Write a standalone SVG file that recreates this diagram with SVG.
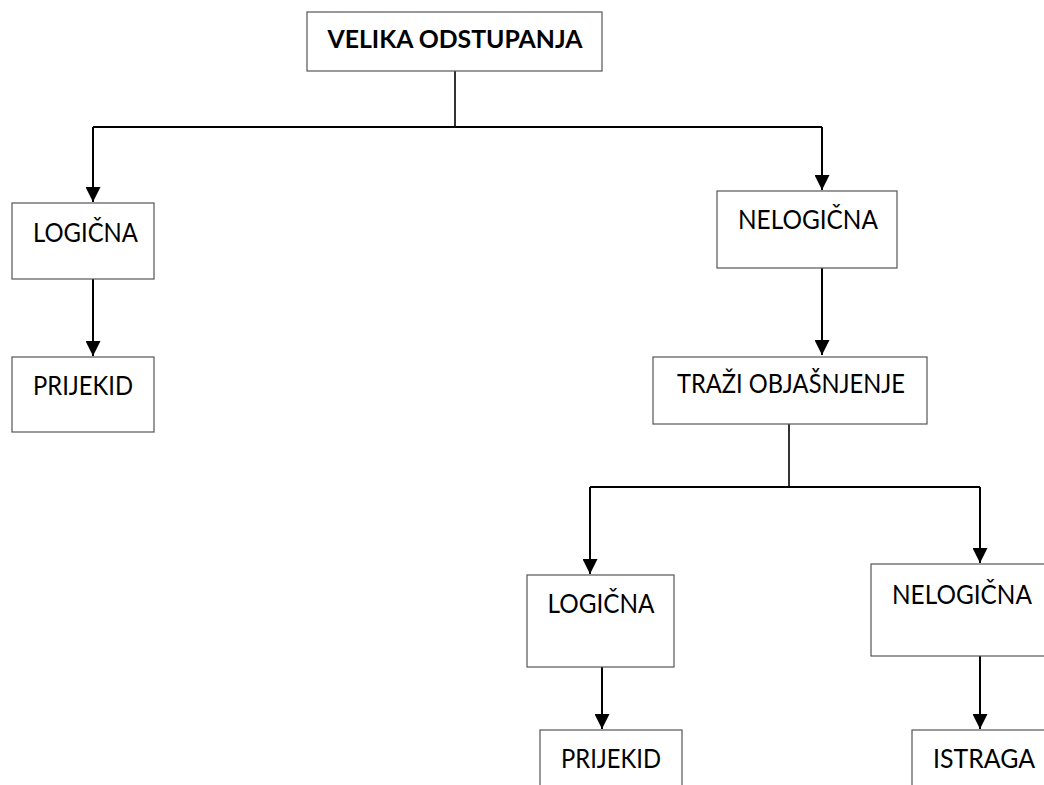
<svg xmlns="http://www.w3.org/2000/svg" width="1044" height="785" viewBox="0 0 1044 785">
<style>
.box{fill:#fff;stroke:#555;stroke-width:1.2}
.t{font-family:Lato,"Liberation Sans",sans-serif;font-size:26.5px;fill:#000;text-anchor:middle}
.b{font-weight:bold;font-size:24.5px}
.c{fill:none;stroke:#000;stroke-width:2}
</style>
<defs>
<marker id="ah" viewBox="0 0 10 10" refX="10" refY="5" markerWidth="7.5" markerHeight="7.5" markerUnits="strokeWidth" orient="auto">
<path d="M0,0 L10,5 L0,10 Z" fill="#000"/>
</marker>
</defs>
<rect width="1044" height="785" fill="#fff"/>
<g id="connectors">
<path class="c" d="M455,71 V127" style="stroke-width:1.6"/>
<path class="c" d="M93,127 H822"/>
<path class="c" d="M93,127 V202" marker-end="url(#ah)"/>
<path class="c" d="M822,127 V190" marker-end="url(#ah)"/>
<path class="c" d="M93,279 V356" marker-end="url(#ah)"/>
<path class="c" d="M822,268 V355" marker-end="url(#ah)"/>
<path class="c" d="M789,424 V487" style="stroke-width:1.6"/>
<path class="c" d="M590,487 H980"/>
<path class="c" d="M590,487 V574" marker-end="url(#ah)"/>
<path class="c" d="M980,487 V563" marker-end="url(#ah)"/>
<path class="c" d="M602,666 V729" marker-end="url(#ah)"/>
<path class="c" d="M980,656 V729" marker-end="url(#ah)"/>
</g>
<g id="n-velika">
<rect class="box" x="307" y="12" width="295" height="59"/>
<text class="t b" x="455" y="48" textLength="255" lengthAdjust="spacingAndGlyphs">VELIKA ODSTUPANJA</text>
</g>
<g id="n-logicna1">
<rect class="box" x="12" y="203" width="142" height="76"/>
<text class="t" x="85.5" y="242" textLength="105" lengthAdjust="spacingAndGlyphs">LOGIČNA</text>
</g>
<g id="n-prijekid1">
<rect class="box" x="12" y="357" width="142" height="75"/>
<text class="t" x="83" y="395" textLength="100" lengthAdjust="spacingAndGlyphs">PRIJEKID</text>
</g>
<g id="n-nelogicna1">
<rect class="box" x="717" y="191" width="180" height="77"/>
<text class="t" x="808" y="229" textLength="140" lengthAdjust="spacingAndGlyphs">NELOGIČNA</text>
</g>
<g id="n-trazi">
<rect class="box" x="653" y="357" width="274" height="67"/>
<text class="t" x="791" y="393" textLength="228" lengthAdjust="spacingAndGlyphs">TRAŽI OBJAŠNJENJE</text>
</g>
<g id="n-logicna2">
<rect class="box" x="527" y="575" width="147" height="92"/>
<text class="t" x="601" y="613" textLength="107" lengthAdjust="spacingAndGlyphs">LOGIČNA</text>
</g>
<g id="n-prijekid2">
<rect class="box" x="540" y="730" width="142" height="70"/>
<text class="t" x="611" y="768" textLength="100" lengthAdjust="spacingAndGlyphs">PRIJEKID</text>
</g>
<g id="n-nelogicna2">
<rect class="box" x="871" y="564" width="190" height="92"/>
<text class="t" x="962" y="604" textLength="140" lengthAdjust="spacingAndGlyphs">NELOGIČNA</text>
</g>
<g id="n-istraga">
<rect class="box" x="912" y="730" width="150" height="70"/>
<text class="t" x="984" y="768" textLength="102" lengthAdjust="spacingAndGlyphs">ISTRAGA</text>
</g>
</svg>
